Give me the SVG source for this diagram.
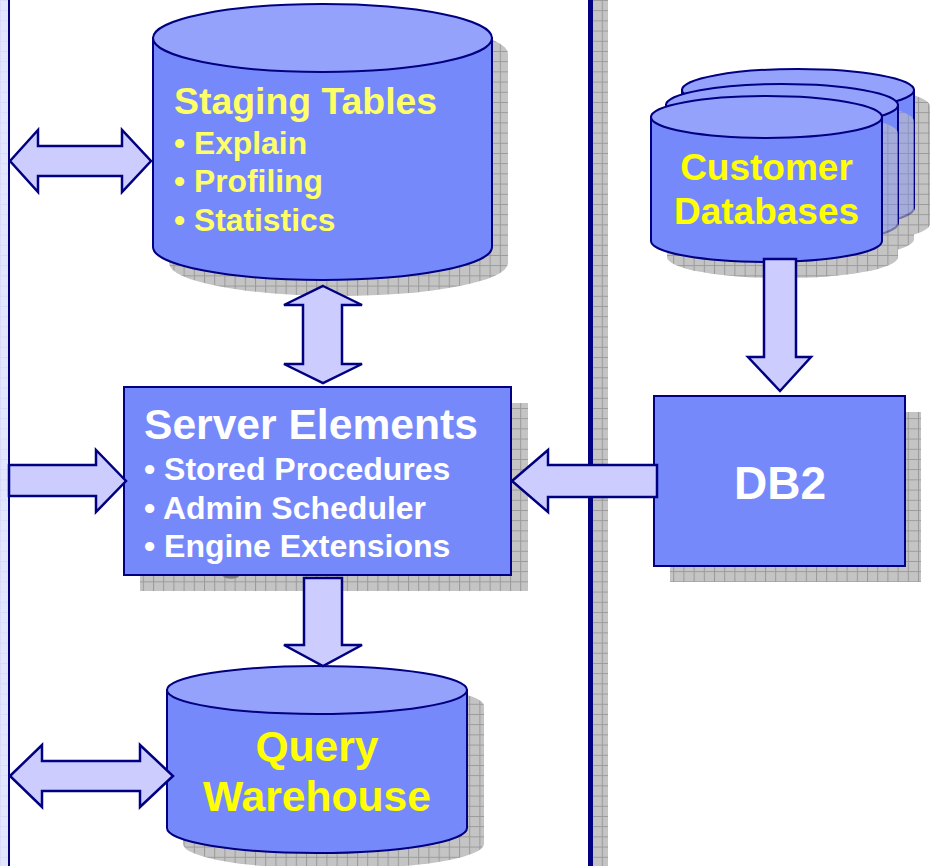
<svg xmlns="http://www.w3.org/2000/svg" width="931" height="866" viewBox="0 0 931 866">
<style>
text{font-family:"Liberation Sans",Arial,sans-serif;font-weight:bold}
.s{fill:url(#grid);stroke:none}
.o{opacity:.6}
.b{fill:#7689fb;stroke:#000080;stroke-width:2}
.t{fill:#94a2fc;stroke:#000080;stroke-width:2}
.a{fill:#ccccff;stroke:#000080;stroke-width:2.500;stroke-linejoin:miter}
.y{fill:#ffff66}
.yy{fill:#ffff00;text-anchor:middle}
.w{fill:#ffffff}
</style>
<defs>
<pattern id="grid" width="10.200" height="10.200" patternUnits="userSpaceOnUse">
<rect width="10.200" height="10.200" fill="#c4c4c4"/>
<path d="M0 .5H10.200M.5 0V10.200" stroke="#9a9a9a" stroke-width="1" fill="none"/>
</pattern>
<pattern id="lgrid" width="10.200" height="10.200" patternUnits="userSpaceOnUse">
<rect width="10.200" height="10.200" fill="#e4e6fd"/>
<path d="M0 .5H10.200M.5 0V10.200" stroke="#d8dcfa" stroke-width="1" fill="none"/>
</pattern>
<path id="back-shadow" d="M698 106V224A116 21 0 0 0 930 224V106A116 21 0 0 0 698 106Z"/>
<path id="mid-shadow" d="M682 121V239A116 21 0 0 0 914 239V121A116 21 0 0 0 682 121Z"/>
<path id="front-shadow" d="M667 133V257A115.500 21 0 0 0 898 257V133A115.500 21 0 0 0 667 133Z"/>
</defs>
<rect width="931" height="866" fill="#ffffff"/>
<g id="dividers">
<rect x="0" y="0" width="8" height="866" fill="url(#lgrid)"/>
<rect x="8" y="0" width="2" height="866" fill="#000080"/>
<rect x="592" y="0" width="16" height="866" fill="url(#grid)"/>
<rect x="588" y="0" width="5" height="866" fill="#000080"/>
</g>
<g id="staging-tables">
<path class="s" d="M169 54V263A169.500 33 0 0 0 508 263V54A169.500 34 0 0 0 169 54Z"/>
<path class="b" d="M153 38V247A169.500 33 0 0 0 492 247V38Z"/>
<ellipse class="t" cx="322.500" cy="38" rx="169.500" ry="34"/>
<text class="y" x="174" y="114" font-size="37.400">Staging Tables</text>
<text class="y" x="174" y="154" font-size="31.800">• Explain</text>
<text class="y" x="174" y="192" font-size="31.800">• Profiling</text>
<text class="y" x="174" y="231" font-size="31.800">• Statistics</text>
</g>
<g id="customer-databases">
<use href="#back-shadow" class="s"/>
<use href="#mid-shadow" class="s"/>
<use href="#front-shadow" class="s"/>
<path class="b" d="M682 90V208A116 21 0 0 0 914 208V90Z"/>
<ellipse class="t" cx="798" cy="90" rx="116" ry="21"/>
<use href="#mid-shadow" class="s o"/>
<path class="b" d="M666 105V223A116 21 0 0 0 898 223V105Z"/>
<ellipse class="t" cx="782" cy="105" rx="116" ry="21"/>
<use href="#front-shadow" class="s o"/>
<path class="b" d="M651 117V241A115.500 21 0 0 0 882 241V117Z"/>
<ellipse class="t" cx="766.500" cy="117" rx="115.500" ry="21"/>
<text class="yy" x="766.500" y="180" font-size="37">Customer</text>
<text class="yy" x="766.500" y="224" font-size="37">Databases</text>
</g>
<g id="server-elements">
<rect class="s" x="140" y="403" width="388" height="188"/>
<path d="M223 574A9 6 0 0 0 239 574" fill="none" stroke="#808080" stroke-width="3"/>
<rect class="b" x="124" y="387" width="387" height="188"/>
<text class="w" x="144" y="439" font-size="42.600">Server Elements</text>
<text class="w" x="144" y="480" font-size="32">• Stored Procedures</text>
<text class="w" x="144" y="519" font-size="32">• Admin Scheduler</text>
<text class="w" x="144" y="557" font-size="32">• Engine Extensions</text>
</g>
<g id="db2">
<rect class="s" x="670" y="412" width="251" height="170"/>
<rect class="b" x="654" y="396" width="251" height="170"/>
<text class="w" x="780" y="499" font-size="46" text-anchor="middle">DB2</text>
</g>
<g id="query-warehouse">
<path class="s" d="M183 706V844A150.500 25 0 0 0 484 844V706A150.500 24 0 0 0 183 706Z"/>
<path class="b" d="M167 690V828A150 25 0 0 0 467 828V690Z"/>
<ellipse class="t" cx="317" cy="690" rx="150" ry="24"/>
<text class="yy" x="317" y="761" font-size="42.600">Query</text>
<text class="yy" x="317" y="811" font-size="42.600">Warehouse</text>
</g>
<g id="connectors">
<path class="a" d="M10 161L38 130V146H122V130L151 161L122 192V176H38V192Z"/>
<path class="a" d="M323 286L362 305H342V364H362L323 383L284 364H303V305H284Z"/>
<path class="a" d="M9 465H96V450L126 481L96 512V496H9Z"/>
<path class="a" d="M512 481L548 450V465H657V497H548V512Z"/>
<path class="a" d="M304 578H342V645H362L323 666L284 645H304Z"/>
<path class="a" d="M764 259H796V357H811L780 391L748 357H764Z"/>
<path class="a" d="M10 776L42 745V761H140V745L173 776L140 807V791H42V807Z"/>
</g>
</svg>
